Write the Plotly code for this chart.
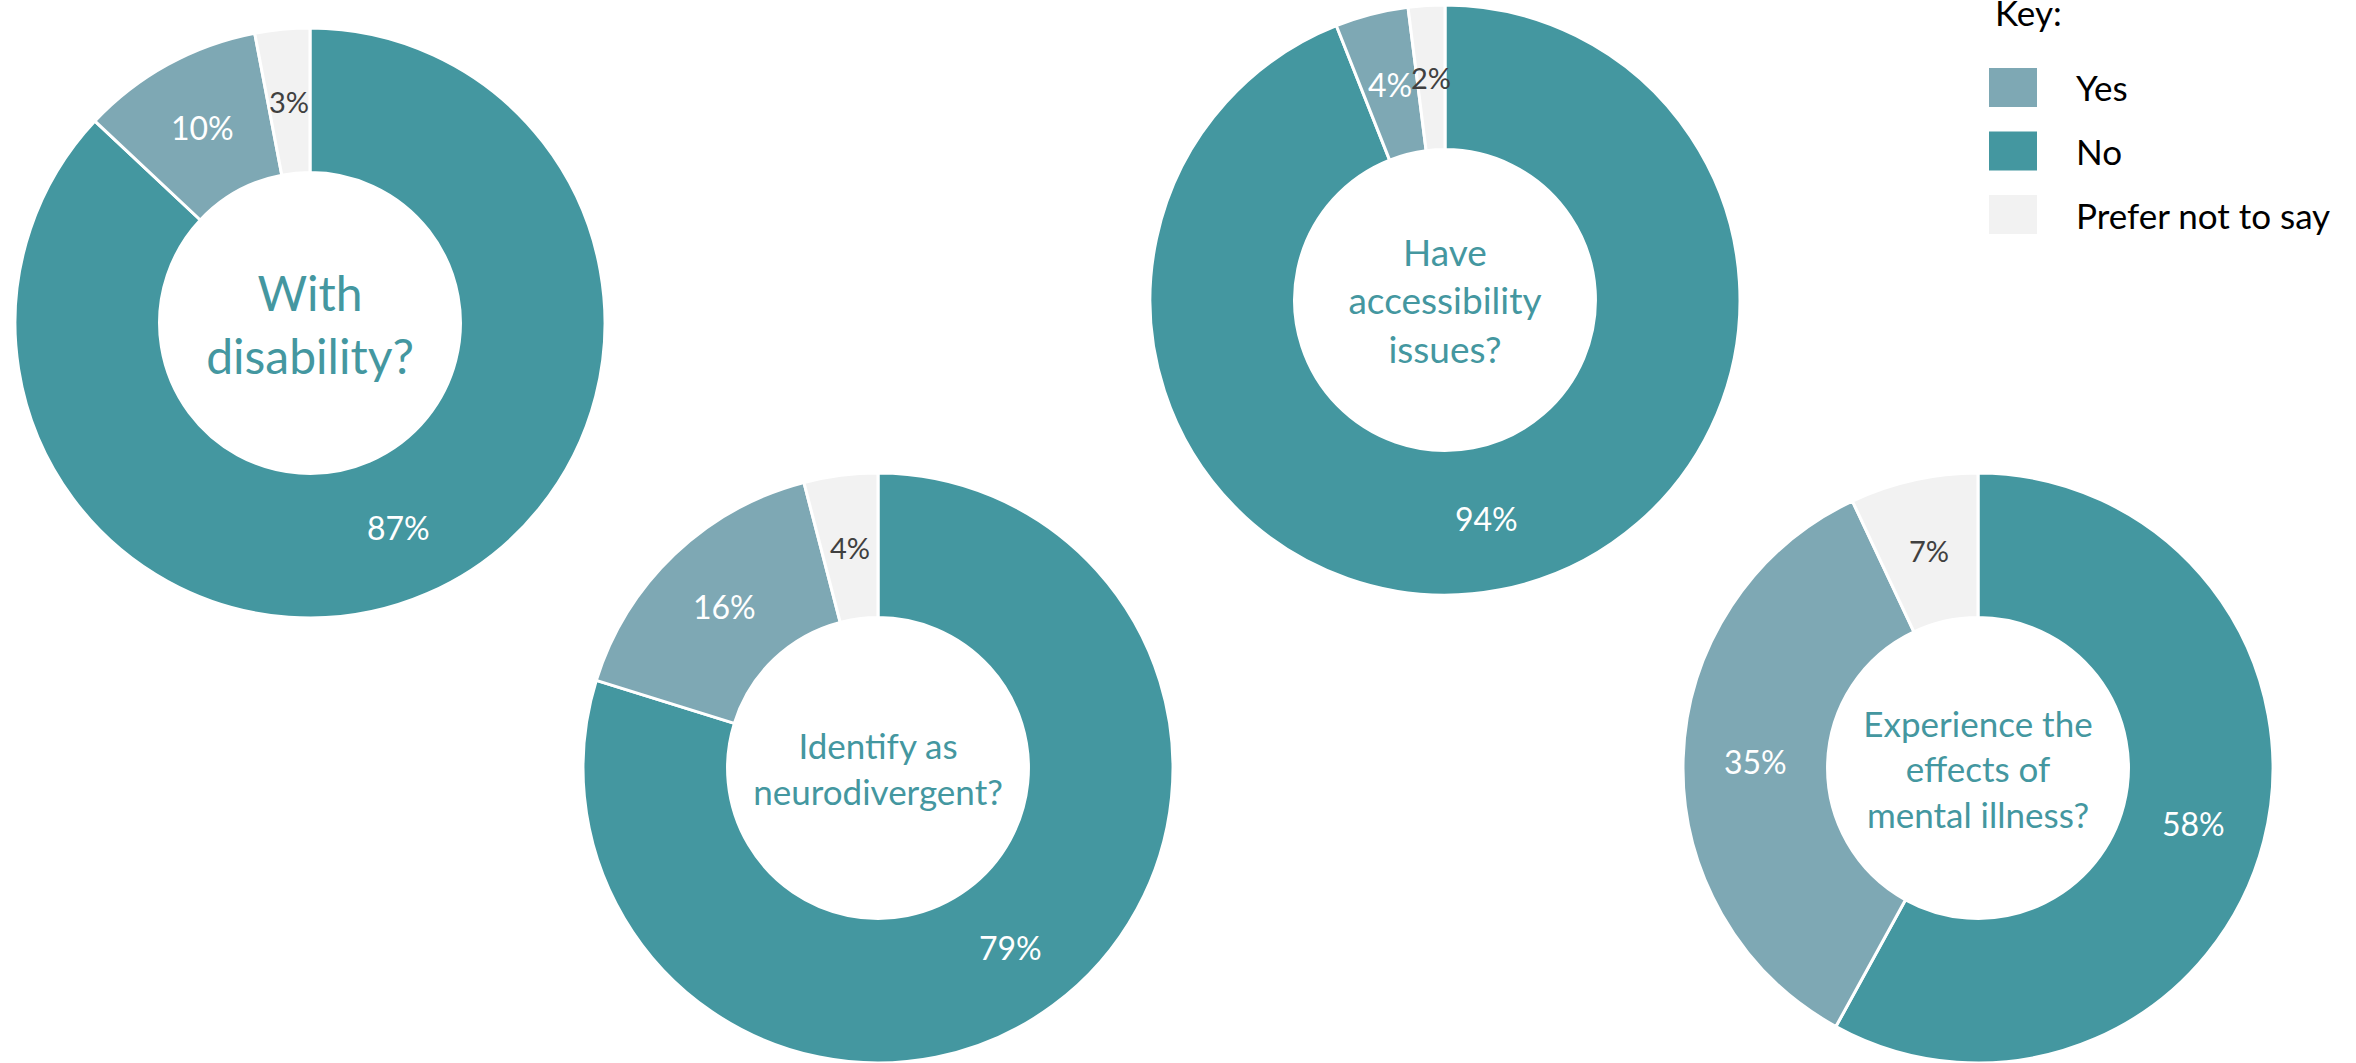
import math
import plotly.graph_objects as go

# Survey answers (percent) for each question, in slice order
categories = ["No", "Yes", "Prefer not to say"]
questions = [
    "With<br>disability?",
    "Identify as<br>neurodivergent?",
    "Have<br>accessibility<br>issues?",
    "Experience the<br>effects of<br>mental illness?",
]
disability = [87, 10, 3]
neurodivergent = [79, 16, 4]
accessibility = [94, 4, 2]
mental_illness = [58, 35, 7]
key_order = ["Yes", "No", "Prefer not to say"]

colors = {"No": "#4497A0", "Yes": "#7EA8B4", "Prefer not to say": "#F2F2F2"}
label_colors = {"No": "white", "Yes": "white", "Prefer not to say": "#404040"}
label_sizes = {"No": 32, "Yes": 32, "Prefer not to say": 29}

W, H = 2356, 1063
FONT = "Lato"
TEAL = "#4497A0"
R_OUT = 295
HOLE = 0.51


def domain(cx, cy, r):
    """Square pie domain (paper units) around a pixel centre."""
    x0, x1 = (cx - r) / W, (cx + r) / W
    y0, y1 = 1 - (cy + r) / H, 1 - (cy - r) / H
    return dict(x=[max(0, x0), min(1, x1)], y=[max(0, y0), min(1, y1)])


layout_spec = [
    (disability, questions[0], (310, 323), 48),
    (neurodivergent, questions[1], (878, 768), 35),
    (accessibility, questions[2], (1445, 300), 37),
    (mental_illness, questions[3], (1978, 768), 35),
]

fig = go.Figure()
annotations = []
for values, title, (cx, cy), tsize in layout_spec:
    fig.add_trace(go.Pie(
        labels=categories,
        values=values,
        sort=False,
        direction="clockwise",
        rotation=0,
        hole=HOLE,
        domain=domain(cx, cy, R_OUT),
        marker=dict(colors=[colors[c] for c in categories],
                    line=dict(color="white", width=3)),
        textinfo="none",
        title=dict(text=title, position="middle center",
                   font=dict(family=FONT, size=tsize, color=TEAL)),
        hoverinfo="label+percent",
        showlegend=False,
    ))

    # percentage labels, horizontal, at the middle of each ring segment
    total = sum(values)
    r_mid = R_OUT * (1 + HOLE) / 2
    cum = 0
    for cat, v in zip(categories, values):
        theta = 2 * math.pi * (cum + v / 2) / total
        cum += v
        px = cx + r_mid * math.sin(theta)
        py = cy - r_mid * math.cos(theta)
        annotations.append(dict(
            text=f"{v}%", x=px / W, y=1 - py / H, xref="paper", yref="paper",
            xanchor="center", yanchor="middle", showarrow=False,
            font=dict(family=FONT, size=label_sizes[cat], color=label_colors[cat])))

# Key: swatches and labels
shapes = []
annotations.append(dict(
    text="Key:", x=1993 / W, y=1 - 12 / H, xref="paper", yref="paper",
    xanchor="left", yanchor="middle", showarrow=False,
    font=dict(family=FONT, size=35, color="black")))
for i, cat in enumerate(key_order):
    top = 68 + i * 63.5
    shapes.append(dict(
        type="rect", xref="paper", yref="paper",
        x0=1989 / W, x1=2037 / W, y0=1 - (top + 39) / H, y1=1 - top / H,
        fillcolor=colors[cat], line=dict(width=0)))
    annotations.append(dict(
        text=cat, x=2074 / W, y=1 - (top + 19.5) / H, xref="paper", yref="paper",
        xanchor="left", yanchor="middle", showarrow=False,
        font=dict(family=FONT, size=35, color="black")))

fig.update_layout(
    width=W, height=H,
    margin=dict(l=0, r=0, t=0, b=0),
    paper_bgcolor="white",
    plot_bgcolor="white",
    shapes=shapes,
    annotations=annotations,
)

fig.write_html("out.html")
